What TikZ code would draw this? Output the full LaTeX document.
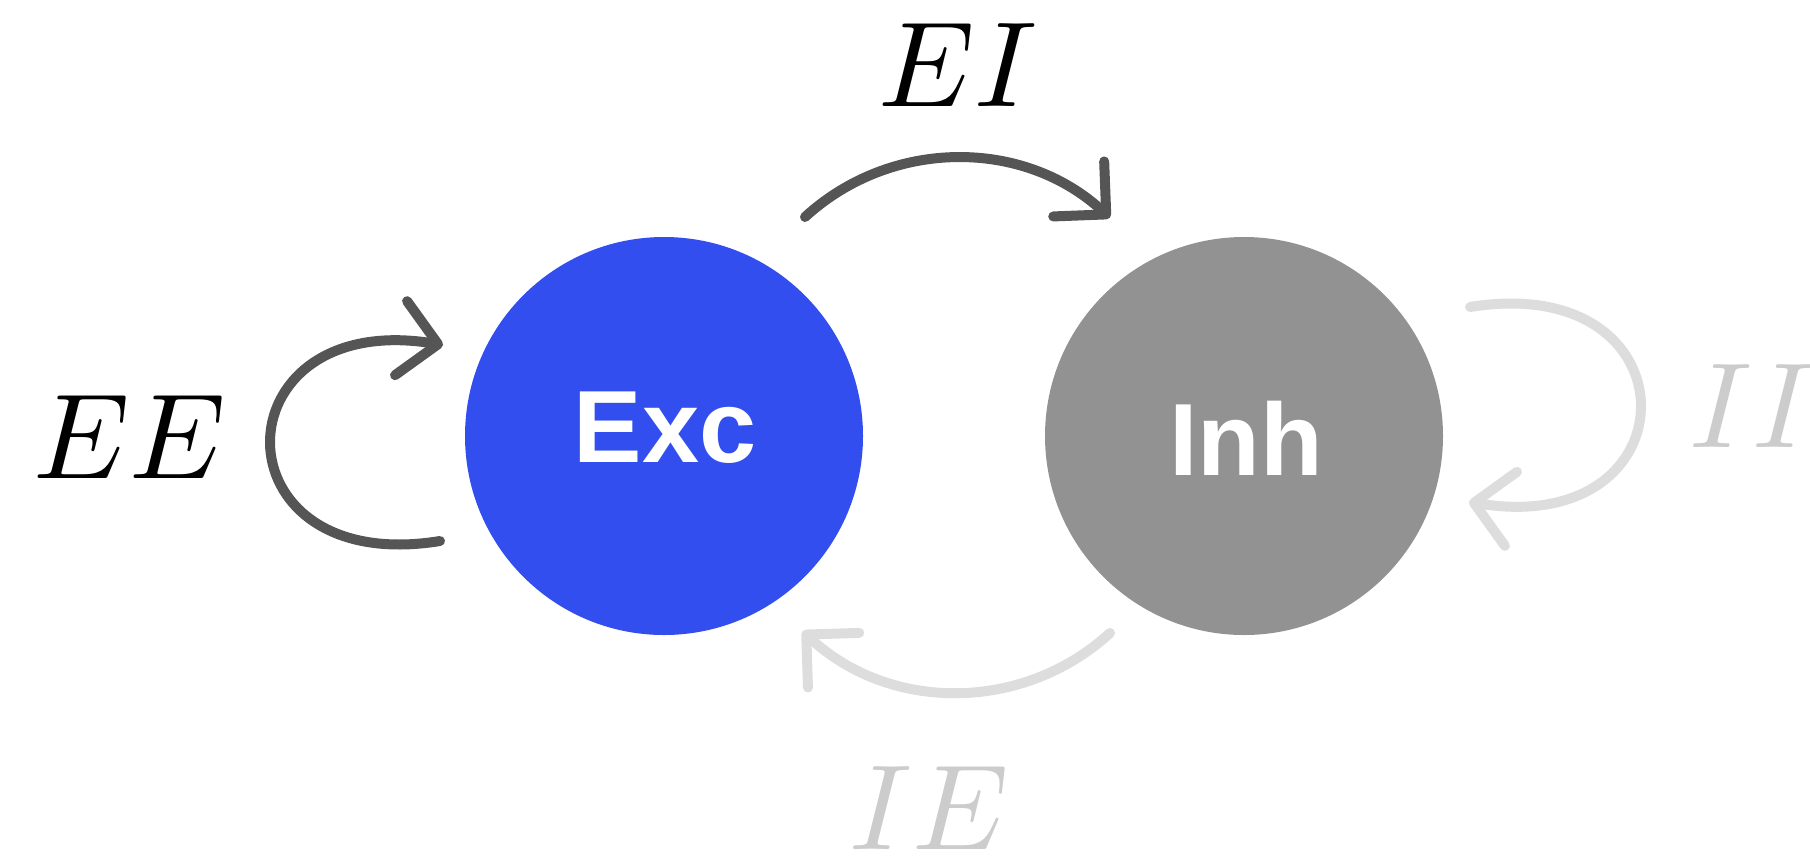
\documentclass[tikz,border=0pt]{standalone}
\usepackage{fontspec}
\setsansfont{Liberation Sans}
\usetikzlibrary{arrows.meta,calc}

\definecolor{excblue}{HTML}{334EEF}
\definecolor{inhgray}{HTML}{929292}
\definecolor{strong}{HTML}{555555}
\definecolor{faint}{HTML}{DDDDDD}
\definecolor{faintlabel}{HTML}{CCCCCC}

\tikzset{
  pop/.style={circle, minimum size=3.98cm, inner sep=0pt, draw=none},
  popname/.style={text=white, font=\sffamily\bfseries\fontsize{29.2}{34}\selectfont, inner sep=0pt},
  link/.style={line width=1mm, line cap=round,
    -{Straight Barb[length=3.75mm,width=7.5mm,round]}},
  weight/.style={font=\fontsize{10}{12}\selectfont, scale=3.45, inner sep=0pt, anchor=base west}
}

\begin{document}
\begin{tikzpicture}
  \useasboundingbox (0,0) rectangle (18.10,8.56);

  % populations
  \node[pop, fill=excblue] (exc) at (6.64,4.20) {};
  \node[pop, fill=inhgray] (inh) at (12.44,4.20) {};
  \node[popname] (exc-name) at (6.65,4.28) {Exc};
  \node[popname] (inh-name) at (12.46,4.18) {Inh};

  % end points of the couplings
  \coordinate (ei-s) at (8.05,6.39);
  \coordinate (ie-s) at (11.10,2.23);
  \coordinate (ee-s) at (4.40,3.15);
  \coordinate (ee-e) at (4.43,5.11);
  \coordinate (ii-s) at (14.70,5.49);
  \coordinate (ii-e) at (14.69,3.54);

  % couplings
  \draw[link, strong] (ei-s) arc[start angle=132.5, end angle=47.2, radius=2.25];
  \draw[link, faint] (ie-s) arc[start angle=312.5, end angle=226.8, radius=2.26];
  \draw[link, strong] (ee-s) .. controls (2.13,2.78) and (2.16,5.48) .. (ee-e);
  \draw[link, faint] (ii-s) .. controls (16.97,5.86) and (16.96,3.17) .. (ii-e);

  % coupling weights
  \node[weight] (ee-w) at (0.31,3.78) {$EE$};
  \node[weight] (ei-w) at (8.76,7.50) {$EI$};
  \node[weight, text=faintlabel] (ie-w) at (8.47,0.07) {$IE$};
  \node[weight, text=faintlabel] (ii-w) at (16.87,4.09) {$II$};
\end{tikzpicture}
\end{document}
